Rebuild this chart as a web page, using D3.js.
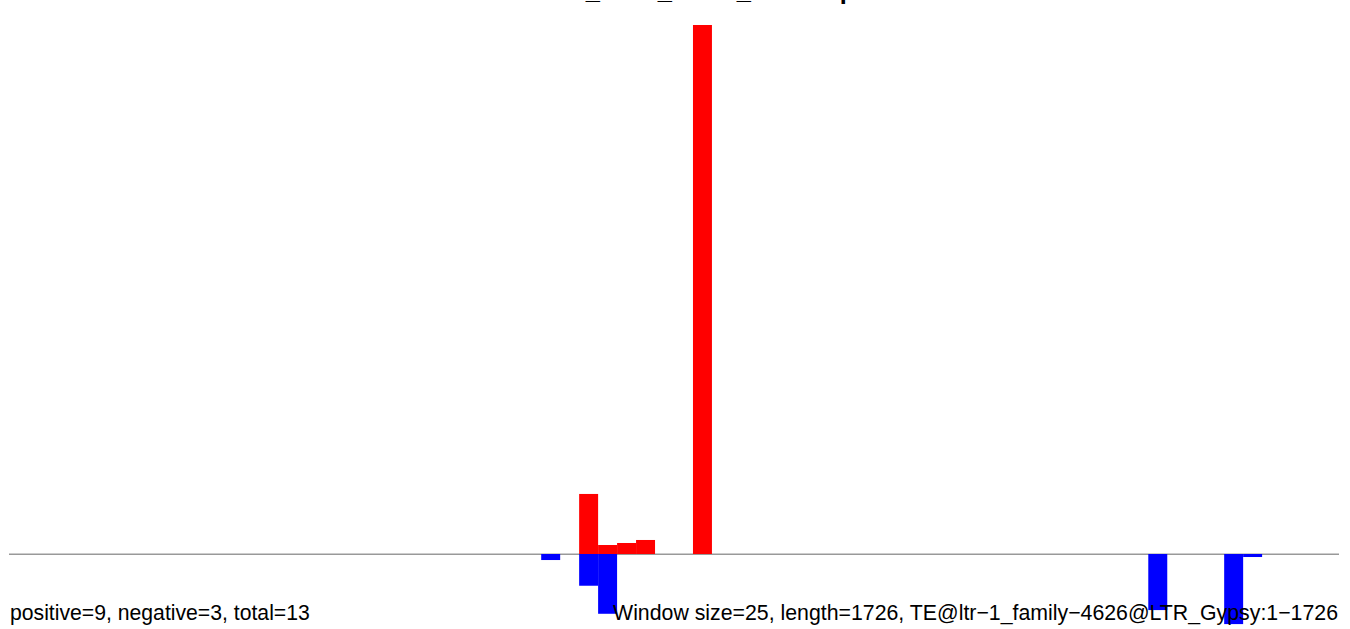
<!DOCTYPE html>
<html>
<head>
<meta charset="utf-8">
<script src="https://cdn.jsdelivr.net/npm/d3@7"></script>
<style>
  html, body { margin: 0; padding: 0; background: #fff; }
  svg { display: block; }
</style>
</head>
<body>
<svg id="chart" width="1350" height="629"></svg>
<script>
// ---- data ----
const titleText = "flowers_seed_small_heatmap";
const windowSize = 25;
const seqLength = 1726;
const windowCount = 70;                 // ceil(1726 / 25)
const posBins   = [30, 31, 32, 33, 36];
const posValues = [11.35, 1.70, 2.08, 2.65, 100];
const negBins   = [28, 30, 31, 60, 64, 65];
const negValues = [1.14, 6.0, 11.3, 10.6, 13.25, 0.57];
const leftLabel  = "positive=9, negative=3, total=13";
const rightLabel = "Window size=25, length=1726, TE@ltr\u22121_family\u22124626@LTR_Gypsy:1\u22121726";

// ---- drawing ----
const svg = d3.select("#chart");
const x = d3.scaleLinear().domain([0, windowCount]).range([10, 1338]);
const y = d3.scaleLinear().domain([0, 100]).range([554, 25]);

// baseline
svg.append("line")
  .attr("x1", 9).attr("x2", 1339)
  .attr("y1", y(0) + 0.3).attr("y2", y(0) + 0.3)
  .attr("stroke", "#999").attr("stroke-width", 1.6);

const pos = posBins.map((b, i) => ({ b, v: posValues[i] }));
const neg = negBins.map((b, i) => ({ b, v: negValues[i] }));

svg.append("g").selectAll("rect").data(pos).join("rect")
  .attr("x", d => x(d.b))
  .attr("width", d => x(d.b + 1) - x(d.b))
  .attr("y", d => y(d.v))
  .attr("height", d => y(0) - y(d.v))
  .attr("fill", "#ff0000");

svg.append("g").selectAll("rect").data(neg).join("rect")
  .attr("x", d => x(d.b))
  .attr("width", d => x(d.b + 1) - x(d.b))
  .attr("y", y(0))
  .attr("height", d => y(-d.v) - y(0))
  .attr("fill", "#0000ff");

// title (mostly outside the visible area, as in the reference)
svg.append("text")
  .attr("x", 676).attr("y", -1.5)
  .attr("text-anchor", "middle")
  .attr("font-family", "'Liberation Sans', Arial, Helvetica, sans-serif")
  .attr("font-weight", "bold")
  .attr("font-size", "25.4px")
  .attr("fill", "#000")
  .text(titleText);

svg.append("text")
  .attr("x", 10).attr("y", 620)
  .attr("font-family", "'Liberation Sans', Arial, Helvetica, sans-serif")
  .attr("font-size", "21.2px")
  .attr("fill", "#000")
  .text(leftLabel);

svg.append("text")
  .attr("x", 1338).attr("y", 620)
  .attr("text-anchor", "end")
  .attr("font-family", "'Liberation Sans', Arial, Helvetica, sans-serif")
  .attr("font-size", "21.3px")
  .attr("fill", "#000")
  .text(rightLabel);
</script>
</body>
</html>
